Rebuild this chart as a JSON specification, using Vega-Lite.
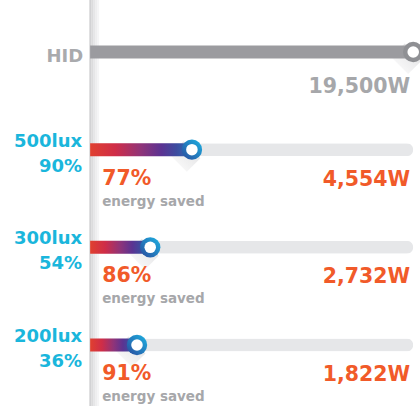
{
  "$schema": "https://vega.github.io/schema/vega-lite/v6.json",
  "width": 420,
  "height": 406,
  "autosize": {"type": "none"},
  "padding": 0,
  "background": "white",
  "view": {"stroke": null},
  "config": {"text": {"font": "DejaVu Sans", "fontWeight": "bold"}},
  "data": {"values": [
    {"row": "HID", "label": "HID", "sub": "", "level": 100, "saved": "", "watts": "19,500W"},
    {"row": "500lux", "label": "500lux", "sub": "90%", "level": 31.5, "saved": "77%", "watts": "4,554W"},
    {"row": "300lux", "label": "300lux", "sub": "54%", "level": 18.6, "saved": "86%", "watts": "2,732W"},
    {"row": "200lux", "label": "200lux", "sub": "36%", "level": 14.5, "saved": "91%", "watts": "1,822W"}
  ]},
  "transform": [{"joinaggregate": [{"op": "max", "field": "level", "as": "full"}]}],
  "layer": [
    {
      "transform": [{"filter": "datum.row == 'HID'"}],
      "mark": {"type": "rule", "color": "#f5f5f6", "strokeWidth": 2, "xOffset": 8},
      "encoding": {
        "x": {"datum": 0, "type": "quantitative", "scale": {"domain": [-27.9, 102.1], "nice": false, "zero": false}, "axis": null}
      }
    },
    {
      "transform": [{"filter": "datum.row == 'HID'"}],
      "mark": {"type": "rule", "color": "#eeeeef", "strokeWidth": 2, "xOffset": 6},
      "encoding": {
        "x": {"datum": 0, "type": "quantitative", "scale": {"domain": [-27.9, 102.1], "nice": false, "zero": false}, "axis": null}
      }
    },
    {
      "transform": [{"filter": "datum.row == 'HID'"}],
      "mark": {"type": "rule", "color": "#e6e6e7", "strokeWidth": 2, "xOffset": 4},
      "encoding": {
        "x": {"datum": 0, "type": "quantitative", "scale": {"domain": [-27.9, 102.1], "nice": false, "zero": false}, "axis": null}
      }
    },
    {
      "transform": [{"filter": "datum.row == 'HID'"}],
      "mark": {"type": "rule", "color": "#dcdcdd", "strokeWidth": 2, "xOffset": 2},
      "encoding": {
        "x": {"datum": 0, "type": "quantitative", "scale": {"domain": [-27.9, 102.1], "nice": false, "zero": false}, "axis": null}
      }
    },
    {
      "transform": [{"filter": "datum.row == 'HID'"}],
      "mark": {"type": "rule", "color": "#cdcdcf", "strokeWidth": 1.5},
      "encoding": {
        "x": {"datum": 0, "type": "quantitative", "scale": {"domain": [-27.9, 102.1], "nice": false, "zero": false}, "axis": null}
      }
    },
    {
      "mark": {"type": "point", "filled": true, "size": 576, "opacity": 1, "shape": "M0.707,0.707 L-0.707,-0.707 L-1.838,0.424 L-0.424,1.838 Z", "color": {"gradient": "linear", "x1": 1, "y1": 0, "x2": 0, "y2": 1, "stops": [{"offset": 0, "color": "#d6d6d8"}, {"offset": 0.4, "color": "#ebebec"}, {"offset": 1, "color": "#ffffff"}]}},
      "encoding": {
        "y": {"field": "row", "type": "nominal", "scale": {"type": "point", "domain": ["HID", "500lux", "300lux", "200lux"], "range": [52, 345], "padding": 0}, "axis": null},
        "x": {"field": "level", "type": "quantitative", "scale": {"domain": [-27.9, 102.1], "nice": false, "zero": false}, "axis": null}
      }
    },
    {
      "transform": [{"filter": "datum.row != 'HID'"}],
      "mark": {"type": "bar", "color": "#e6e7e9", "size": 13, "cornerRadiusEnd": 6.5},
      "encoding": {
        "y": {"field": "row", "type": "nominal", "scale": {"type": "point", "domain": ["HID", "500lux", "300lux", "200lux"], "range": [52, 345], "padding": 0}, "axis": null},
        "x": {"field": "full", "type": "quantitative", "scale": {"domain": [-27.9, 102.1], "nice": false, "zero": false}, "axis": null}
      }
    },
    {
      "transform": [{"filter": "datum.row == 'HID'"}],
      "mark": {"type": "bar", "color": "#9b9b9f", "size": 13},
      "encoding": {
        "y": {"field": "row", "type": "nominal", "scale": {"type": "point", "domain": ["HID", "500lux", "300lux", "200lux"], "range": [52, 345], "padding": 0}, "axis": null},
        "x": {"field": "level", "type": "quantitative", "scale": {"domain": [-27.9, 102.1], "nice": false, "zero": false}, "axis": null}
      }
    },
    {
      "transform": [{"filter": "datum.row != 'HID'"}],
      "mark": {"type": "bar", "size": 13, "color": {"gradient": "linear", "x1": 0, "x2": 1, "y1": 0, "y2": 0, "stops": [
        {"offset": 0, "color": "#e0402f"},
        {"offset": 0.25, "color": "#cf2d48"},
        {"offset": 0.5, "color": "#8f3479"},
        {"offset": 0.7, "color": "#5b3392"},
        {"offset": 0.85, "color": "#3c4c9f"},
        {"offset": 1, "color": "#2e72b8"}
      ]}},
      "encoding": {
        "y": {"field": "row", "type": "nominal", "scale": {"type": "point", "domain": ["HID", "500lux", "300lux", "200lux"], "range": [52, 345], "padding": 0}, "axis": null},
        "x": {"field": "level", "type": "quantitative", "scale": {"domain": [-27.9, 102.1], "nice": false, "zero": false}, "axis": null}
      }
    },
    {
      "transform": [{"filter": "datum.row != 'HID'"}],
      "mark": {"type": "point", "shape": "circle", "filled": true, "size": 415, "opacity": 1, "color": {"gradient": "linear", "x1": 0, "y1": 1, "x2": 1, "y2": 0, "stops": [{"offset": 0, "color": "#2a4a9c"}, {"offset": 1, "color": "#1cb3e3"}]}},
      "encoding": {
        "y": {"field": "row", "type": "nominal", "scale": {"type": "point", "domain": ["HID", "500lux", "300lux", "200lux"], "range": [52, 345], "padding": 0}, "axis": null},
        "x": {"field": "level", "type": "quantitative", "scale": {"domain": [-27.9, 102.1], "nice": false, "zero": false}, "axis": null}
      }
    },
    {
      "transform": [{"filter": "datum.row == 'HID'"}],
      "mark": {"type": "point", "shape": "circle", "filled": true, "size": 415, "opacity": 1, "color": "#8f9094"},
      "encoding": {
        "y": {"field": "row", "type": "nominal", "scale": {"type": "point", "domain": ["HID", "500lux", "300lux", "200lux"], "range": [52, 345], "padding": 0}, "axis": null},
        "x": {"field": "level", "type": "quantitative", "scale": {"domain": [-27.9, 102.1], "nice": false, "zero": false}, "axis": null}
      }
    },
    {
      "mark": {"type": "point", "shape": "circle", "filled": true, "size": 133, "opacity": 1, "color": "#ffffff"},
      "encoding": {
        "y": {"field": "row", "type": "nominal", "scale": {"type": "point", "domain": ["HID", "500lux", "300lux", "200lux"], "range": [52, 345], "padding": 0}, "axis": null},
        "x": {"field": "level", "type": "quantitative", "scale": {"domain": [-27.9, 102.1], "nice": false, "zero": false}, "axis": null}
      }
    },
    {
      "transform": [{"filter": "datum.row == 'HID'"}],
      "mark": {"type": "text", "align": "right", "baseline": "middle", "dx": -7, "dy": 5, "fontSize": 18, "color": "#a9aaad"},
      "encoding": {
        "y": {"field": "row", "type": "nominal", "scale": {"type": "point", "domain": ["HID", "500lux", "300lux", "200lux"], "range": [52, 345], "padding": 0}, "axis": null},
        "x": {"datum": 0, "type": "quantitative", "scale": {"domain": [-27.9, 102.1], "nice": false, "zero": false}, "axis": null},
        "text": {"field": "label"}
      }
    },
    {
      "transform": [{"filter": "datum.row == 'HID'"}],
      "mark": {"type": "text", "align": "right", "baseline": "middle", "dx": -3, "dy": 35, "fontSize": 20.5, "color": "#a6a7aa"},
      "encoding": {
        "y": {"field": "row", "type": "nominal", "scale": {"type": "point", "domain": ["HID", "500lux", "300lux", "200lux"], "range": [52, 345], "padding": 0}, "axis": null},
        "x": {"field": "full", "type": "quantitative", "scale": {"domain": [-27.9, 102.1], "nice": false, "zero": false}, "axis": null},
        "text": {"field": "watts"}
      }
    },
    {
      "transform": [{"filter": "datum.row != 'HID'"}],
      "mark": {"type": "text", "align": "right", "baseline": "middle", "dx": -8, "dy": -8, "fontSize": 18, "color": "#1ab6dc"},
      "encoding": {
        "y": {"field": "row", "type": "nominal", "scale": {"type": "point", "domain": ["HID", "500lux", "300lux", "200lux"], "range": [52, 345], "padding": 0}, "axis": null},
        "x": {"datum": 0, "type": "quantitative", "scale": {"domain": [-27.9, 102.1], "nice": false, "zero": false}, "axis": null},
        "text": {"field": "label"}
      }
    },
    {
      "transform": [{"filter": "datum.row != 'HID'"}],
      "mark": {"type": "text", "align": "right", "baseline": "middle", "dx": -8, "dy": 17, "fontSize": 18, "color": "#1ab6dc"},
      "encoding": {
        "y": {"field": "row", "type": "nominal", "scale": {"type": "point", "domain": ["HID", "500lux", "300lux", "200lux"], "range": [52, 345], "padding": 0}, "axis": null},
        "x": {"datum": 0, "type": "quantitative", "scale": {"domain": [-27.9, 102.1], "nice": false, "zero": false}, "axis": null},
        "text": {"field": "sub"}
      }
    },
    {
      "transform": [{"filter": "datum.row != 'HID'"}],
      "mark": {"type": "text", "align": "left", "baseline": "middle", "dx": 12, "dy": 29, "fontSize": 20.5, "color": "#f15a29"},
      "encoding": {
        "y": {"field": "row", "type": "nominal", "scale": {"type": "point", "domain": ["HID", "500lux", "300lux", "200lux"], "range": [52, 345], "padding": 0}, "axis": null},
        "x": {"datum": 0, "type": "quantitative", "scale": {"domain": [-27.9, 102.1], "nice": false, "zero": false}, "axis": null},
        "text": {"field": "saved"}
      }
    },
    {
      "transform": [{"filter": "datum.row != 'HID'"}],
      "mark": {"type": "text", "align": "left", "baseline": "middle", "dx": 12, "dy": 52, "fontSize": 13.5, "color": "#a6a7aa", "text": "energy saved"},
      "encoding": {
        "y": {"field": "row", "type": "nominal", "scale": {"type": "point", "domain": ["HID", "500lux", "300lux", "200lux"], "range": [52, 345], "padding": 0}, "axis": null},
        "x": {"datum": 0, "type": "quantitative", "scale": {"domain": [-27.9, 102.1], "nice": false, "zero": false}, "axis": null}
      }
    },
    {
      "transform": [{"filter": "datum.row != 'HID'"}],
      "mark": {"type": "text", "align": "right", "baseline": "middle", "dx": -3, "dy": 30, "fontSize": 20.5, "color": "#f15a29"},
      "encoding": {
        "y": {"field": "row", "type": "nominal", "scale": {"type": "point", "domain": ["HID", "500lux", "300lux", "200lux"], "range": [52, 345], "padding": 0}, "axis": null},
        "x": {"field": "full", "type": "quantitative", "scale": {"domain": [-27.9, 102.1], "nice": false, "zero": false}, "axis": null},
        "text": {"field": "watts"}
      }
    }
  ]
}
